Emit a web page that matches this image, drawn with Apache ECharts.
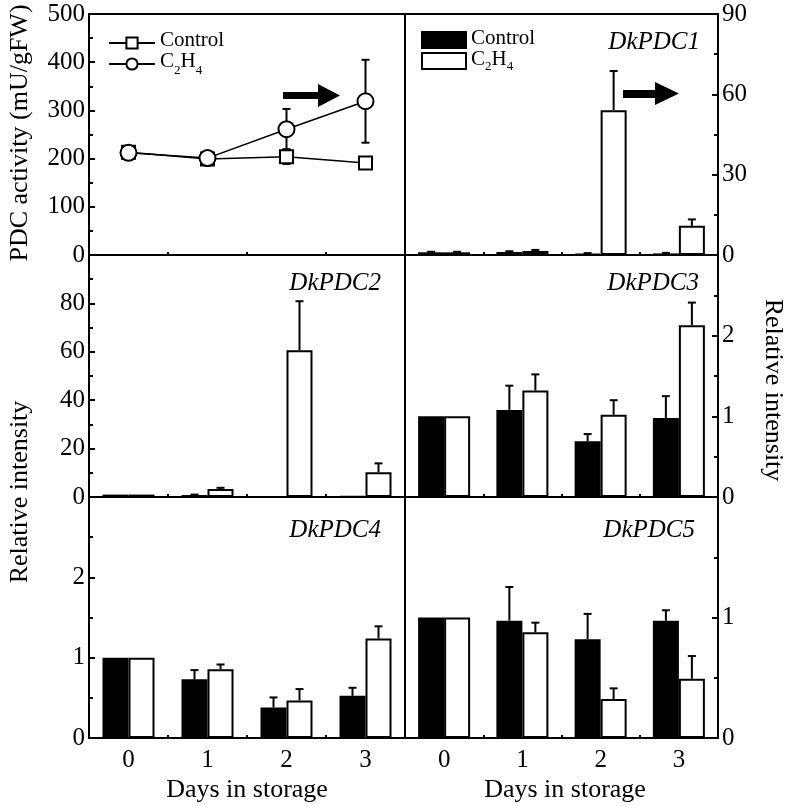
<!DOCTYPE html>
<html><head><meta charset="utf-8">
<script src="https://cdn.jsdelivr.net/npm/echarts@6/dist/echarts.min.js"></script>
<style>html,body{margin:0;padding:0;background:#fff}#c{width:789px;height:806px}</style>
</head><body><div id="c"></div>
<script>
const days = ['0', '1', '2', '3'];
// PDC activity (mU/gFW), line chart
const pdcControl = [213, 199, 204, 191];
const pdcControlSD = [8, 5, 15, 6];
const pdcEthylene = [212, 201, 261, 319];
const pdcEthyleneSD = [8, 6, 42, 86];
// DkPDC1
const pdc1Control = [1.0, 1.1, 0.5, 0.6];
const pdc1ControlSD = [0.2, 0.3, 0.2, 0.2];
const pdc1Ethylene = [1.0, 1.5, 54.1, 10.9];
const pdc1EthyleneSD = [0.2, 0.4, 14.6, 2.4];
// DkPDC2
const pdc2Control = [1.0, 0.8, 0.3, 0.4];
const pdc2ControlSD = [0, 0.2, 0, 0];
const pdc2Ethylene = [1.0, 3.3, 60.6, 10.2];
const pdc2EthyleneSD = [0, 0.5, 20.3, 3.7];
// DkPDC3
const pdc3Control = [1.0, 1.08, 0.69, 0.98];
const pdc3ControlSD = [0, 0.30, 0.09, 0.27];
const pdc3Ethylene = [1.0, 1.32, 1.02, 2.13];
const pdc3EthyleneSD = [0, 0.20, 0.18, 0.28];
// DkPDC4
const pdc4Control = [1.0, 0.73, 0.38, 0.525];
const pdc4ControlSD = [0, 0.115, 0.125, 0.10];
const pdc4Ethylene = [1.0, 0.857, 0.468, 1.238];
const pdc4EthyleneSD = [0, 0.058, 0.141, 0.152];
// DkPDC5
const pdc5Control = [1.0, 0.973, 0.82, 0.973];
const pdc5ControlSD = [0, 0.28, 0.21, 0.087];
const pdc5Ethylene = [1.0, 0.877, 0.324, 0.492];
const pdc5EthyleneSD = [0, 0.08, 0.088, 0.188];

const geneNames = ['DkPDC1', 'DkPDC2', 'DkPDC3', 'DkPDC4', 'DkPDC5'];
const yTitleTop = 'PDC activity (mU/gFW)';
const yTitleRel = 'Relative intensity';
const xTitle = 'Days in storage';

const FONT = '"Liberation Serif", "Times New Roman", serif';
const chart = echarts.init(document.getElementById('c'), null, {renderer: 'canvas'});

const grids = [
  {left: 89, top: 14, width: 316, height: 241},
  {left: 405, top: 14, width: 313, height: 241},
  {left: 89, top: 255, width: 316, height: 242},
  {left: 405, top: 255, width: 313, height: 242},
  {left: 89, top: 497, width: 316, height: 241},
  {left: 405, top: 497, width: 313, height: 241}
].map(g => Object.assign(g, {show: true, borderColor: '#000', borderWidth: 2, backgroundColor: 'transparent', containLabel: false}));

const yRanges = [
  {min: 0, max: 500, interval: 100, showMax: true},
  {min: 0, max: 90, interval: 30, showMax: true},
  {min: 0, max: 100, interval: 20, showMax: false},
  {min: 0, max: 3, interval: 1, showMax: false},
  {min: 0, max: 3, interval: 1, showMax: false},
  {min: 0, max: 2, interval: 1, showMax: false}
];

const xAxes = grids.map((g, i) => ({
  type: 'category', gridIndex: i, data: days, boundaryGap: true,
  axisLine: {show: true, lineStyle: {color: '#000', width: 2}},
  axisTick: {show: true, inside: true, length: 3, alignWithLabel: false, lineStyle: {color: '#000', width: 2}},
  axisLabel: {show: i >= 4, fontSize: 25, color: '#000', fontFamily: FONT, margin: 10},
  splitLine: {show: false}
}));

const yAxes = yRanges.map((r, i) => ({
  type: 'value', gridIndex: i, min: r.min, max: r.max, interval: r.interval,
  position: i % 2 === 0 ? 'left' : 'right',
  axisLine: {show: true, lineStyle: {color: '#000', width: 2}},
  axisTick: {show: true, inside: true, length: 6, lineStyle: {color: '#000', width: 2}},
  minorTick: {show: true, splitNumber: 2, length: 4, lineStyle: {color: '#000', width: 2}},
  axisLabel: {show: true, fontSize: 25, color: '#000', fontFamily: FONT, margin: 4,
    showMaxLabel: r.showMax, showMinLabel: true, hideOverlap: false},
  splitLine: {show: false}, minorSplitLine: {show: false}
}));

function errBar(offset, both) {
  return function (params, api) {
    const i = api.value(0), v = api.value(1), e = api.value(2);
    if (!e) return null;
    const p0 = api.coord([i, both ? v - e : v]);
    const p1 = api.coord([i, v + e]);
    const x = p0[0] + offset;
    const st = {stroke: '#000', lineWidth: 2};
    const children = [
      {type: 'line', shape: {x1: x, y1: p0[1], x2: x, y2: p1[1]}, style: st},
      {type: 'line', shape: {x1: x - 4, y1: p1[1], x2: x + 4, y2: p1[1]}, style: st}
    ];
    if (both) children.push({type: 'line', shape: {x1: x - 4, y1: p0[1], x2: x + 4, y2: p0[1]}, style: st});
    return {type: 'group', children};
  };
}
function errSeries(idx, vals, sds, offset, both, z) {
  return {
    type: 'custom', xAxisIndex: idx, yAxisIndex: idx, z: z,
    renderItem: errBar(offset, both), encode: {x: 0, y: 1},
    data: vals.map((v, k) => [k, v, sds[k]]), silent: true
  };
}

const series = [];
// line panel
series.push(errSeries(0, pdcControl, pdcControlSD, 0, true, 1));
series.push(errSeries(0, pdcEthylene, pdcEthyleneSD, 0, true, 1));
series.push({
  name: 'ctrlLine', type: 'line', xAxisIndex: 0, yAxisIndex: 0, data: pdcControl,
  symbol: 'rect', symbolSize: 13, z: 3,
  itemStyle: {color: '#fff', borderColor: '#000', borderWidth: 2},
  lineStyle: {color: '#000', width: 1.5}
});
series.push({
  name: 'ethLine', type: 'line', xAxisIndex: 0, yAxisIndex: 0, data: pdcEthylene,
  symbol: 'circle', symbolSize: 16, z: 4,
  itemStyle: {color: '#fff', borderColor: '#000', borderWidth: 2},
  lineStyle: {color: '#000', width: 1.5}
});

const barSets = [
  [1, pdc1Control, pdc1ControlSD, pdc1Ethylene, pdc1EthyleneSD],
  [2, pdc2Control, pdc2ControlSD, pdc2Ethylene, pdc2EthyleneSD],
  [3, pdc3Control, pdc3ControlSD, pdc3Ethylene, pdc3EthyleneSD],
  [4, pdc4Control, pdc4ControlSD, pdc4Ethylene, pdc4EthyleneSD],
  [5, pdc5Control, pdc5ControlSD, pdc5Ethylene, pdc5EthyleneSD]
];
barSets.forEach(([idx, c, csd, e, esd]) => {
  series.push({
    name: 'ctrlBar', type: 'bar', xAxisIndex: idx, yAxisIndex: idx, data: c,
    barWidth: 26, barGap: '0%',
    itemStyle: {color: '#000', borderColor: '#000', borderWidth: 1.5}
  });
  series.push({
    name: 'ethBar', type: 'bar', xAxisIndex: idx, yAxisIndex: idx, data: e,
    barWidth: 26, barGap: '0%',
    itemStyle: {color: '#fff', borderColor: '#000', borderWidth: 2}
  });
  series.push(errSeries(idx, c, csd, -13, false, 5));
  series.push(errSeries(idx, e, esd, 13, false, 5));
});

function makeRich(lh) {
  return {
    n: {fontSize: 21, fontFamily: FONT, color: '#000', verticalAlign: 'top', lineHeight: lh},
    s: {fontSize: 13, fontFamily: FONT, color: '#000', verticalAlign: 'bottom', lineHeight: lh}
  };
}
const legendFmt = name => name.indexOf('ctrl') === 0 ? '{n|Control}' : '{n|C}{s|2}{n|H}{s|4}';

const graphics = [];
function txt(text, x, y, opts) {
  graphics.push(Object.assign({
    type: 'text', x: x, y: y, silent: true,
    style: Object.assign({text: text, font: '26px ' + FONT, fill: '#000', align: 'center', verticalAlign: 'middle'}, opts.style || {})
  }, opts.el || {}));
}
// y titles
txt(yTitleTop, 20, 133, {el: {rotation: Math.PI / 2}});
txt(yTitleRel, 20, 492, {el: {rotation: Math.PI / 2}});
txt(yTitleRel, 773, 390, {el: {rotation: -Math.PI / 2}});
// x titles
txt(xTitle, 247, 790, {});
txt(xTitle, 565, 790, {});
// gene names
const genePos = [[700, 42], [381, 283], [699, 283], [381, 530], [695, 530]];
geneNames.forEach((g, k) => txt(g, genePos[k][0], genePos[k][1], {style: {align: 'right', font: 'italic 25px ' + FONT}}));
// arrows
graphics.push({type: 'polygon', silent: true, shape: {points: [[283, 92], [318, 92], [318, 84], [340, 95.5], [318, 107], [318, 99], [283, 99]]}, style: {fill: '#000'}});
graphics.push({type: 'polygon', silent: true, shape: {points: [[623, 90], [655, 90], [655, 82], [679, 93.5], [655, 105], [655, 98], [623, 98]]}, style: {fill: '#000'}});

chart.setOption({
  animation: false,
  backgroundColor: '#fff',
  grid: grids,
  xAxis: xAxes,
  yAxis: yAxes,
  legend: [
    {data: ['ctrlLine', 'ethLine'], orient: 'vertical', left: 103, top: 25, itemWidth: 46, itemHeight: 14,
      itemGap: 0, selectedMode: false, formatter: legendFmt, textStyle: {rich: makeRich(26), fontFamily: FONT, fontSize: 21, color: '#000'}},
    {data: ['ctrlBar', 'ethBar'], orient: 'vertical', left: 416, top: 23, itemWidth: 44, itemHeight: 16,
      itemGap: 0, icon: 'rect', selectedMode: false, formatter: legendFmt, textStyle: {rich: makeRich(24), fontFamily: FONT, fontSize: 21, color: '#000'}}
  ],
  series: series,
  graphic: graphics
});
</script></body></html>
